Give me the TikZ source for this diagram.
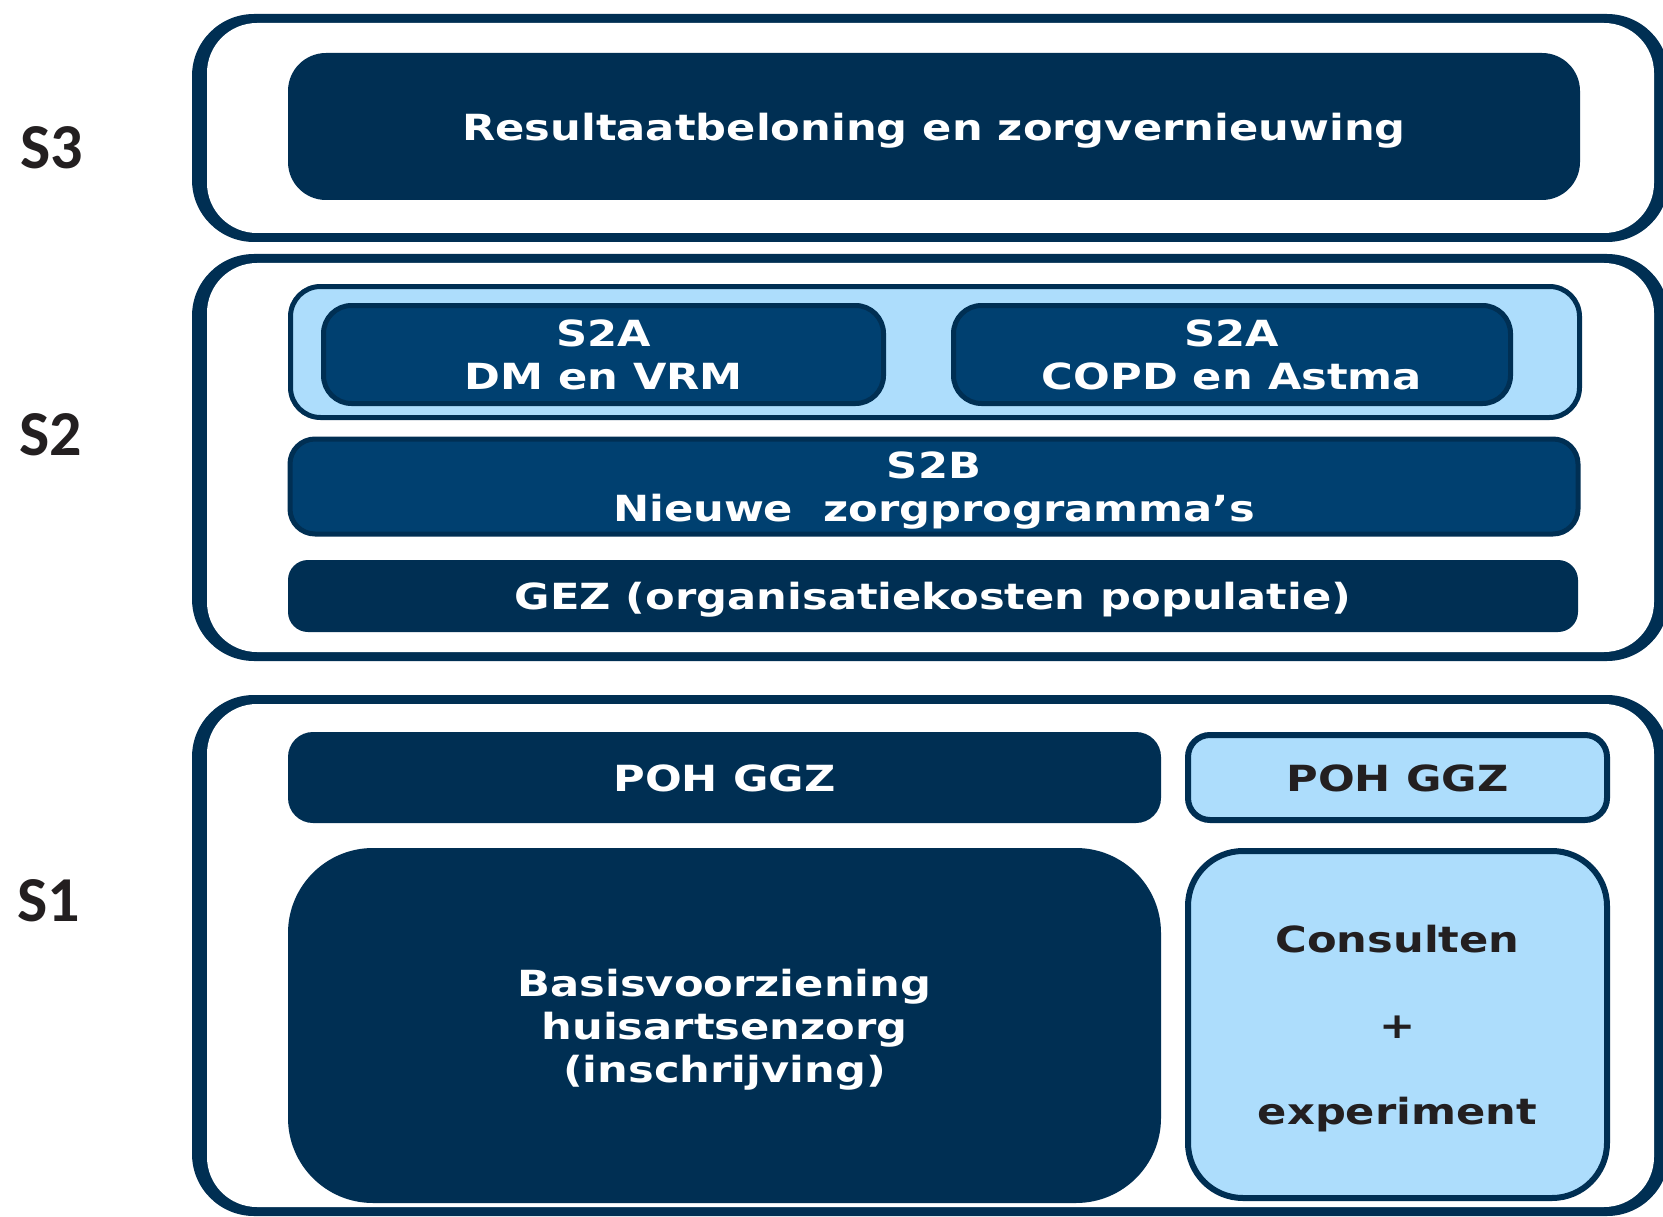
\documentclass[tikz,border=0pt]{standalone}
\usepackage{fontspec}
\usepackage{graphicx}
\newfontfamily\boxfont{DejaVu Sans}
\newfontfamily\labfont{Carlito}
\definecolor{navy}{RGB}{0,47,83}
\definecolor{midnavy}{RGB}{0,64,112}
\definecolor{lightblue}{RGB}{173,221,252}
\definecolor{labgray}{RGB}{35,31,32}
\newcommand\wtxt[1]{\raisebox{-5pt}[\height][\depth]{\scalebox{1.2}[1]{\begin{tabular}{@{}c@{}}#1\end{tabular}}}}
\begin{document}
\begin{tikzpicture}[x=1pt,y=-1pt,
  boxtext/.style={inner sep=0pt, align=center, font=\boxfont\bfseries\fontsize{36}{43}\selectfont},
  darkbox/.style={boxtext, fill=navy, text=white, rounded corners=#1},
  midbox/.style={boxtext, fill=midnavy, draw=navy, line width=5pt, text=white, rounded corners=#1},
  lightbox/.style={boxtext, fill=lightblue, draw=navy, line width=6pt, text=labgray, rounded corners=#1},
  lightframe/.style={fill=lightblue, draw=navy, line width=5pt, rounded corners=#1},
  level/.style={font=\labfont\bfseries\fontsize{64}{64}\selectfont, text=labgray, inner sep=0pt},
  frameout/.style={fill=navy, rounded corners=62pt},
  framein/.style={fill=white, rounded corners=50pt}]
\useasboundingbox (0,0) rectangle (1663,1217);
\clip (0,0) rectangle (1663,1217);
\fill[white] (0,0) rectangle (1663,1217);
% frames
\fill[frameout] (192,14) rectangle (1669,242);
\fill[framein] (207,23) rectangle (1654,233);
\fill[frameout] (192,254) rectangle (1669,661);
\fill[framein] (207,263) rectangle (1654,652);
\fill[frameout] (192,695) rectangle (1669,1216);
\fill[framein] (207,704) rectangle (1654,1207);
% level labels
\node[level] (s3) at (52,148) {S3};
\node[level] (s2) at (51,435) {S2};
\node[level] (s1) at (49,901) {S1};
% S3
\node[darkbox=38pt, minimum width=1292, minimum height=147] (res) at (934,126.5)
  {\wtxt{Resultaatbeloning en zorgvernieuwing}};
% S2
\node[lightframe=30pt, minimum width=1289, minimum height=131] (s2acont) at (935,352) {};
\node[midbox=28pt, minimum width=560, minimum height=98] (s2a1) at (603.5,354.5)
  {\wtxt{S2A\\DM en VRM}};
\node[midbox=28pt, minimum width=557, minimum height=98] (s2a2) at (1232,354.5)
  {\wtxt{S2A\\COPD en Astma}};
\node[midbox=25pt, minimum width=1288, minimum height=95] (s2b) at (934,486.5)
  {\wtxt{S2B\\Nieuwe\ \ zorgprogramma’s}};
\node[darkbox=20pt, minimum width=1290, minimum height=72] (gez) at (933,596)
  {\wtxt{GEZ (organisatiekosten populatie)}};
% S1
\node[darkbox=25pt, minimum width=873, minimum height=91] (poh1) at (724.5,777.5)
  {\wtxt{POH GGZ}};
\node[lightbox=22pt, minimum width=419, minimum height=85] (poh2) at (1397.5,777.5)
  {\wtxt{POH GGZ}};
\node[darkbox=85pt, minimum width=873, minimum height=355] (basis) at (724.5,1025.5)
  {\wtxt{Basisvoorziening\\huisartsenzorg\\(inschrijving)}};
\node[lightbox=55pt, minimum width=419, minimum height=347] (cons) at (1397.5,1024.5)
  {\wtxt{Consulten\\ \\+\\ \\experiment}};
\end{tikzpicture}
\end{document}
